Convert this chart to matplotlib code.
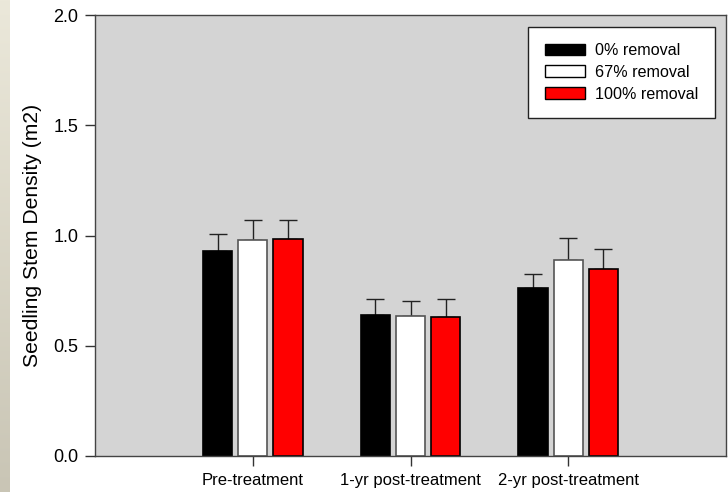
import numpy as np
import matplotlib.pyplot as plt
from matplotlib.patches import Patch
from matplotlib.colors import LinearSegmentedColormap

plt.rcParams['font.family'] = ['Liberation Sans', 'DejaVu Sans']

periods = ['Pre-treatment', '1-yr post-treatment', '2-yr post-treatment']
treatments = ['0% removal', '67% removal', '100% removal']
colors = ['black', 'white', 'red']

density = [
    [0.93, 0.64, 0.76],   # 0% removal
    [0.98, 0.635, 0.89],  # 67% removal
    [0.985, 0.63, 0.85],  # 100% removal
]
se = [
    [0.075, 0.07, 0.065],
    [0.09, 0.07, 0.10],
    [0.085, 0.08, 0.09],
]

fig = plt.figure(figsize=(7.28, 4.92), dpi=100)

# beige strip down the left side of the slide
strip = fig.add_axes([0, 0, 10/728, 1])
grad = np.linspace(0, 1, 256).reshape(-1, 1)
strip.imshow(grad, aspect='auto', extent=[0, 1, 0, 1],
             cmap=LinearSegmentedColormap.from_list('beige', ['#ebe8da', '#c9c5b5']))
strip.axis('off')

ax = fig.add_axes([95/728, 36/492, 631/728, 441/492])
ax.set_facecolor('#d4d4d4')

x = np.arange(1, len(periods) + 1)
width = 0.185
step = 0.223
for i, (name, col) in enumerate(zip(treatments, colors)):
    edge = '#555555' if col == 'white' else 'black'
    ax.bar(x + (i - 1) * step, density[i], width, color=col, edgecolor=edge,
           linewidth=1.2, label=name, zorder=2)
    ax.errorbar(x + (i - 1) * step, density[i], yerr=[np.zeros(3), se[i]],
                fmt='none', ecolor='#222222', elinewidth=1, capsize=6.5,
                capthick=1, zorder=1)

ax.set_xlim(0, 4)
ax.set_ylim(0, 2.0)
ax.set_xticks(x)
ax.set_xticklabels(periods, fontsize=12)
ax.set_yticks(np.arange(0, 2.01, 0.5))
ax.set_yticklabels(['%.1f' % v for v in np.arange(0, 2.01, 0.5)], fontsize=13)
ax.tick_params(direction='out', length=7, width=1, color='#333333', pad=5)
ax.set_ylabel('Seedling Stem Density (m2)', fontsize=15.2, labelpad=8)
for s in ax.spines.values():
    s.set_color('#444444')
    s.set_linewidth(1)

handles = [Patch(facecolor=c, edgecolor='black', linewidth=1) for c in colors]
leg = ax.legend(handles, treatments, loc='upper right', bbox_to_anchor=(0.9825, 0.9728),
                borderaxespad=0, fontsize=11.6, frameon=True, fancybox=False,
                edgecolor='#222222', framealpha=1, handlelength=2.48,
                handleheight=0.75, borderpad=1.0, labelspacing=0.42,
                handletextpad=0.68)
leg.get_frame().set_linewidth(1)

fig.savefig('out.png', dpi=100)
